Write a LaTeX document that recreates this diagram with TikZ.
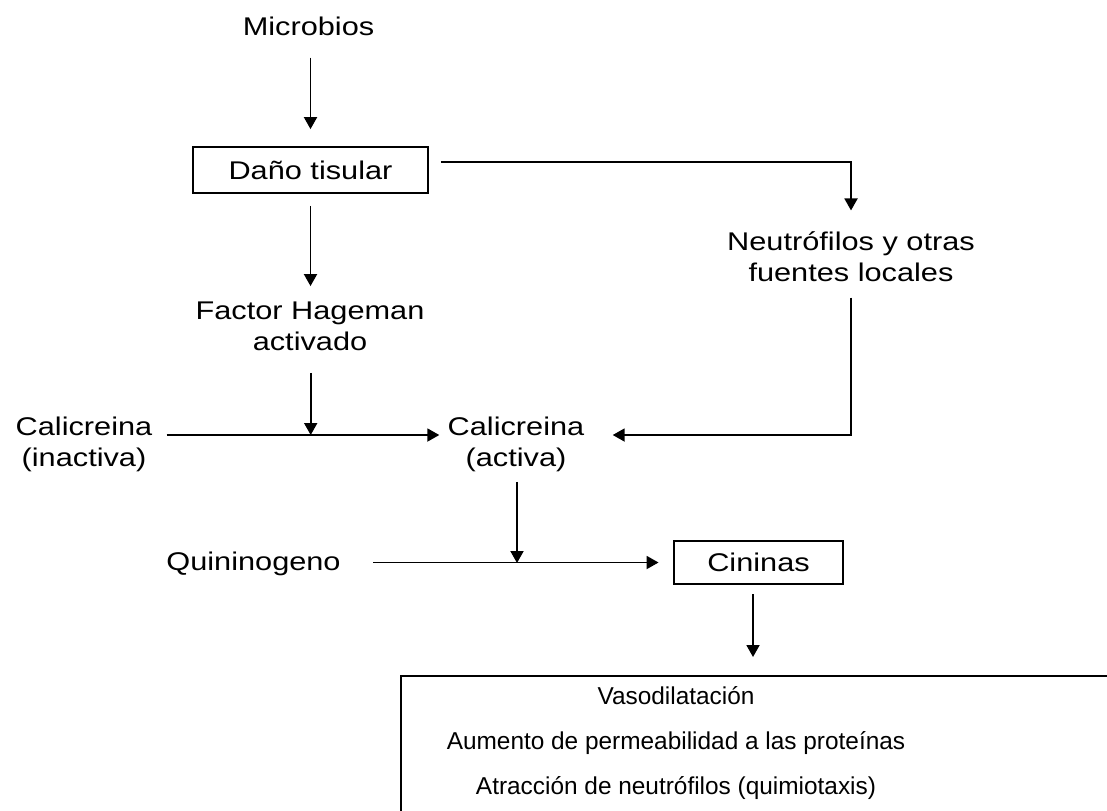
\documentclass[tikz,border=0pt]{standalone}
\usepackage{fontspec}
\setmainfont{Liberation Sans}[FakeStretch=1.2]
\newfontfamily\plainsans{Liberation Sans}
\usetikzlibrary{arrows.meta,calc}
\begin{document}
\begin{tikzpicture}[x=0.5pt,y=-0.5pt,
  lbl/.style={font=\fontsize{12.8pt}{15.6pt}\selectfont, align=center, inner sep=0pt},
  efftxt/.style={font=\plainsans\fontsize{12.2pt}{14pt}\selectfont, inner sep=0pt, anchor=base},
  box/.style={draw, line width=0.9pt, inner sep=0pt},
  arr/.style={-{Triangle[length=6pt,width=6.5pt]}, line width=0.95pt}]
\useasboundingbox (0,0) rectangle (1107,810);
\clip (0,0) rectangle (1107,810);

% labels and boxes
\node[lbl, anchor=base] (mic) at (308.5,35) {Microbios};
\node[box, lbl, minimum width=117.5pt, minimum height=23pt] (dano) at (310.5,170) {Daño tisular};
\node[lbl] (fha) at (310,326) {Factor Hageman\\activado};
\node[lbl] (neu) at (851,257) {Neutrófilos y otras\\fuentes locales};
\node[lbl] (cin) at (84,444) {Calicreina\\(inactiva)};
\node[lbl] (ca) at (516,444) {Calicreina\\(activa)};
\node[lbl, anchor=base] (qui) at (253.5,570.7) {Quininogeno};
\node[box, lbl, line width=1.45pt, minimum width=84.5pt, minimum height=21.5pt] (cini) at (758.5,562.5) {Cininas};

% junction points on the horizontal arrows and the top of the effects box
\coordinate (j1) at (310.7,435);
\coordinate (j2) at (517,563);
\coordinate (efftop) at (753,675);

% effects box (runs off the page to the right and below)
\draw[line width=1.15pt] (401,840) -- (401,676) -- (1140,676);
\node[efftxt] (eff1) at (676,704) {Vasodilatación};
\node[efftxt] (eff2) at (676,749) {Aumento de permeabilidad a las proteínas};
\node[efftxt] (eff3) at (676,794) {Atracción de neutrófilos (quimiotaxis)};

% connectors
\draw[arr, shorten <=11pt, shorten >=8.5pt] (dano.north |- mic.south) -- (dano.north);
\draw[arr, shorten <=6pt, shorten >=10.5pt] ([yshift=4pt]dano.east) -| (neu.north);
\draw[arr, shorten <=6pt, shorten >=7.5pt] (dano.south) -- (dano.south |- fha.north);
\draw[arr, shorten <=11pt] (j1 |- fha.south) -- (j1);
\draw[arr, shorten <=7pt, shorten >=4pt] (cin.east |- j1) -- (ca.west |- j1);
\draw[arr, shorten <=7.5pt, shorten >=14pt] (neu.south) |- (ca.east |- j1);
\draw[arr, shorten <=5pt] (j2 |- ca.south) -- (j2);
\draw[arr, shorten <=16pt, shorten >=7pt] (qui.east |- cini.west) -- (cini.west);
\draw[arr, shorten <=4.5pt, shorten >=9pt] (efftop |- cini.south) -- (efftop);
\end{tikzpicture}
\end{document}
